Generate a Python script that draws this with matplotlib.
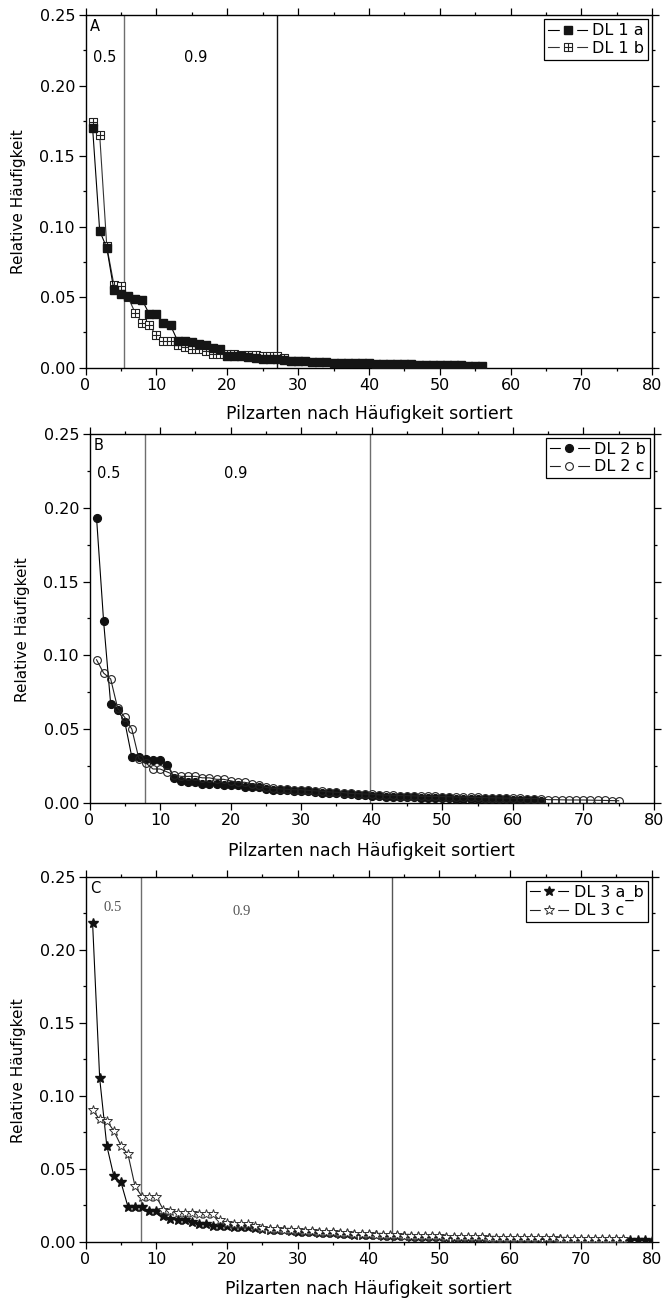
import numpy as np
import matplotlib
matplotlib.use("Agg")
import matplotlib.pyplot as plt
from matplotlib.path import Path
from matplotlib.lines import Line2D
from matplotlib.legend_handler import HandlerTuple
from matplotlib.ticker import MultipleLocator, FormatStrFormatter

# relative abundance of fungal species, sorted by rank
dl1a = [0.170, 0.097, 0.085, 0.055, 0.052, 0.051, 0.049, 0.048, 0.038, 0.038, 0.032, 0.030,
        0.019, 0.019, 0.018, 0.017, 0.016, 0.014, 0.013,
        0.0085, 0.008, 0.008, 0.0075, 0.007, 0.0065, 0.006, 0.006, 0.0055, 0.005, 0.005,
        0.0045, 0.0042, 0.004, 0.0038, 0.0036, 0.0034, 0.0032, 0.003, 0.003, 0.003,
        0.0028, 0.0027, 0.0026, 0.0025, 0.0024, 0.0023, 0.0022, 0.0021, 0.002, 0.002,
        0.0019, 0.0018, 0.0016, 0.0015, 0.0014, 0.0013]
dl1b = [0.174, 0.165, 0.086, 0.059, 0.058, 0.050, 0.039, 0.032, 0.030, 0.023, 0.019, 0.019,
        0.016, 0.015, 0.013, 0.013, 0.012, 0.010, 0.010,
        0.0095, 0.0095, 0.009, 0.009, 0.009, 0.0085, 0.008, 0.008, 0.007, 0.005, 0.0045]

dl2b = [0.193, 0.123, 0.067, 0.063, 0.055, 0.031, 0.031, 0.030, 0.029, 0.029, 0.026, 0.017,
        0.015, 0.014, 0.014, 0.013, 0.013, 0.013, 0.012, 0.012, 0.012, 0.011, 0.011, 0.011,
        0.0095, 0.009, 0.009, 0.0085, 0.008, 0.008, 0.0078, 0.0075, 0.007, 0.007, 0.0065,
        0.006, 0.006, 0.0055, 0.0052, 0.005,
        0.0045, 0.0043, 0.0042, 0.004, 0.004, 0.0038, 0.0036, 0.0035, 0.0034, 0.0033,
        0.0032, 0.003, 0.003, 0.0029, 0.0028, 0.0027, 0.0026, 0.0025, 0.0024, 0.0023,
        0.0022, 0.002, 0.0018, 0.0016]
dl2c = [0.097, 0.088, 0.084, 0.064, 0.058, 0.050, 0.030, 0.027, 0.023, 0.023, 0.021, 0.019,
        0.018, 0.018, 0.018, 0.017, 0.017, 0.016, 0.016, 0.015, 0.014, 0.014, 0.013, 0.012,
        0.0105, 0.010, 0.0095, 0.0092, 0.009, 0.009, 0.0085, 0.0082, 0.008, 0.0075, 0.0072,
        0.007, 0.0065, 0.0063, 0.006, 0.006,
        0.0055, 0.0053, 0.0052, 0.005, 0.005, 0.0048, 0.0046, 0.0045, 0.0044, 0.0043,
        0.0042, 0.004, 0.004, 0.0038, 0.0037, 0.0036, 0.0035, 0.0034, 0.0033, 0.0032,
        0.0031, 0.003, 0.003, 0.0028,
        0.0022, 0.0022, 0.0021, 0.002, 0.002, 0.002, 0.0019, 0.0018, 0.0017, 0.0016, 0.0015]

dl3ab = [0.218, 0.112, 0.066, 0.045, 0.041, 0.024, 0.024, 0.024, 0.021, 0.021,
         0.018, 0.016, 0.015, 0.015, 0.014, 0.012, 0.012, 0.011, 0.011, 0.011,
         0.0105, 0.010, 0.010, 0.0095, 0.009, 0.0085, 0.008, 0.008, 0.0075, 0.007,
         0.007, 0.0065, 0.0062, 0.006, 0.006, 0.0055, 0.0052, 0.005, 0.005, 0.0048,
         0.0045, 0.0043, 0.004, 0.004, 0.0038, 0.0036, 0.0035, 0.0034, 0.0033, 0.0032,
         0.003, 0.003, 0.0028, 0.0027, 0.0026, 0.0025, 0.0024, 0.0023, 0.0022, 0.0021,
         0.002, 0.002, 0.002, 0.0019, 0.0018, 0.0018, 0.0017, 0.0016, 0.0016, 0.0015,
         0.0015, 0.0014, 0.0014, 0.0013, 0.0013, 0.0012, 0.0012, 0.0011, 0.0011, 0.001]
dl3c = [0.090, 0.084, 0.083, 0.076, 0.066, 0.060, 0.038, 0.031, 0.031, 0.031,
        0.022, 0.021, 0.020, 0.020, 0.020, 0.019, 0.019, 0.019, 0.015, 0.013,
        0.012, 0.012, 0.012, 0.011, 0.0095, 0.009, 0.009, 0.0085, 0.008, 0.008,
        0.0075, 0.0072, 0.007, 0.0068, 0.0065, 0.0062, 0.006, 0.0058, 0.0055, 0.0053,
        0.005, 0.0048, 0.0046, 0.0045, 0.0044, 0.0043, 0.0042, 0.004, 0.004, 0.0038,
        0.0036, 0.0035, 0.0034, 0.0033, 0.0032, 0.0031, 0.003, 0.003, 0.003, 0.0029,
        0.0028, 0.0027, 0.0026, 0.0025, 0.0024, 0.0024, 0.0023, 0.0022, 0.0022, 0.0021,
        0.002, 0.002, 0.002, 0.0019, 0.0019, 0.0018]

# rank positions where 50 % and 90 % of cumulative abundance are reached
cut_a = [5.5, 27.0]
cut_b = [7.9, 39.7]
cut_c = [7.9, 43.3]

plt.rcParams["font.family"] = ["DejaVu Sans"]
plt.rcParams["font.size"] = 11.5

# square marker with a cross inside
grid_square = Path(
    [(-1, -1), (1, -1), (1, 1), (-1, 1), (-1, -1), (0, -1), (0, 1), (-1, 0), (1, 0)],
    [Path.MOVETO, Path.LINETO, Path.LINETO, Path.LINETO, Path.CLOSEPOLY,
     Path.MOVETO, Path.LINETO, Path.MOVETO, Path.LINETO],
)


def rank(values):
    return np.arange(1, len(values) + 1)


def plot_series(ax, values, label, line_color, zorder, **marker_kw):
    ax.plot(rank(values), values, "-", color=line_color, lw=0.8, zorder=zorder, **marker_kw)
    # legend entry: line broken around the marker
    gap = Line2D([], [], color=line_color, lw=0.8, marker="s", ms=11,
                 mfc="white", mec="white")
    mark = Line2D([], [], ls="none", **marker_kw)
    return (gap, mark), label


def style_axes(ax, letter, cuts, cut_colors, q_pos, entries, serif=False):
    ax.set_xlim(0, 80)
    ax.set_ylim(0, 0.25)
    ax.xaxis.set_major_locator(MultipleLocator(10))
    ax.xaxis.set_minor_locator(MultipleLocator(5))
    ax.yaxis.set_major_locator(MultipleLocator(0.05))
    ax.yaxis.set_minor_locator(MultipleLocator(0.025))
    ax.yaxis.set_major_formatter(FormatStrFormatter("%.2f"))
    ax.tick_params(which="both", direction="out", top=True, right=True,
                   labeltop=False, labelright=False, width=0.9, pad=2.5)
    ax.tick_params(which="major", length=5)
    ax.tick_params(which="minor", length=2.5)
    for sp in ax.spines.values():
        sp.set_linewidth(1.0)
    for c, col in zip(cuts, cut_colors):
        ax.axvline(c, color=col, lw=1.0, zorder=1)
    ax.text(0.008, 0.988, letter, transform=ax.transAxes, ha="left", va="top", fontsize=10.5)
    if serif:
        kw = dict(family="Liberation Serif", color="#555555", fontsize=10.5)
    else:
        kw = dict(fontsize=10.5)
    ax.text(q_pos[0][0], q_pos[0][1], "0.5", ha="center", va="center", **kw)
    ax.text(q_pos[1][0], q_pos[1][1], "0.9", ha="center", va="center", **kw)
    ax.set_xlabel("Pilzarten nach Häufigkeit sortiert", fontsize=12.5)
    ax.set_ylabel("Relative Häufigkeit", fontsize=11)
    ax.xaxis.set_label_coords(0.5, -0.105)
    ax.yaxis.set_label_coords(-0.105, 0.47)
    handles = [e[0] for e in entries]
    labels = [e[1] for e in entries]
    leg = ax.legend(handles, labels, loc="upper right", fancybox=False, edgecolor="black",
                    framealpha=1, handlelength=2.4, handletextpad=0.35, borderpad=0.25,
                    labelspacing=0.15, borderaxespad=0.25, fontsize=11.5,
                    handler_map={tuple: HandlerTuple(ndivide=1, pad=0)})
    leg.get_frame().set_linewidth(0.9)


fig = plt.figure(figsize=(6.63, 13.02), dpi=100)
ax_a = fig.add_axes([0.1290, 0.7176, 0.8549, 0.2707])
ax_b = fig.add_axes([0.1350, 0.3833, 0.8514, 0.2834])
ax_c = fig.add_axes([0.1290, 0.0461, 0.8540, 0.2806])

# A
ent_a = [
    plot_series(ax_a, dl1a, "DL 1 a", "black", 4, marker="s", ms=5.2,
                mfc="#151515", mec="#151515"),
    plot_series(ax_a, dl1b, "DL 1 b", "#333333", 3, marker=grid_square, ms=5.4,
                mfc="white", mec="#222222", mew=0.8),
]
style_axes(ax_a, "A", cut_a, ["#6e6e6e", "#111111"], [(2.7, 0.220), (15.5, 0.220)], ent_a)

# B
ent_b = [
    plot_series(ax_b, dl2b, "DL 2 b", "black", 3, marker="o", ms=5.6,
                mfc="#111111", mec="#111111"),
    plot_series(ax_b, dl2c, "DL 2 c", "#222222", 4, marker="o", ms=5.6,
                mfc="none", mec="#222222", mew=0.8),
]
style_axes(ax_b, "B", cut_b, ["#6e6e6e", "#6e6e6e"], [(2.7, 0.223), (20.7, 0.223)], ent_b)

# C
ent_c = [
    plot_series(ax_c, dl3ab, "DL 3 a_b", "black", 3, marker="*", ms=7.5,
                mfc="#111111", mec="#111111"),
    plot_series(ax_c, dl3c, "DL 3 c", "#222222", 4, marker="*", ms=7.5,
                mfc="white", mec="#333333", mew=0.7),
]
style_axes(ax_c, "C", cut_c, ["#6e6e6e", "#555555"], [(3.9, 0.229), (22.1, 0.226)], ent_c,
           serif=True)

fig.savefig("out.png", dpi=100)
